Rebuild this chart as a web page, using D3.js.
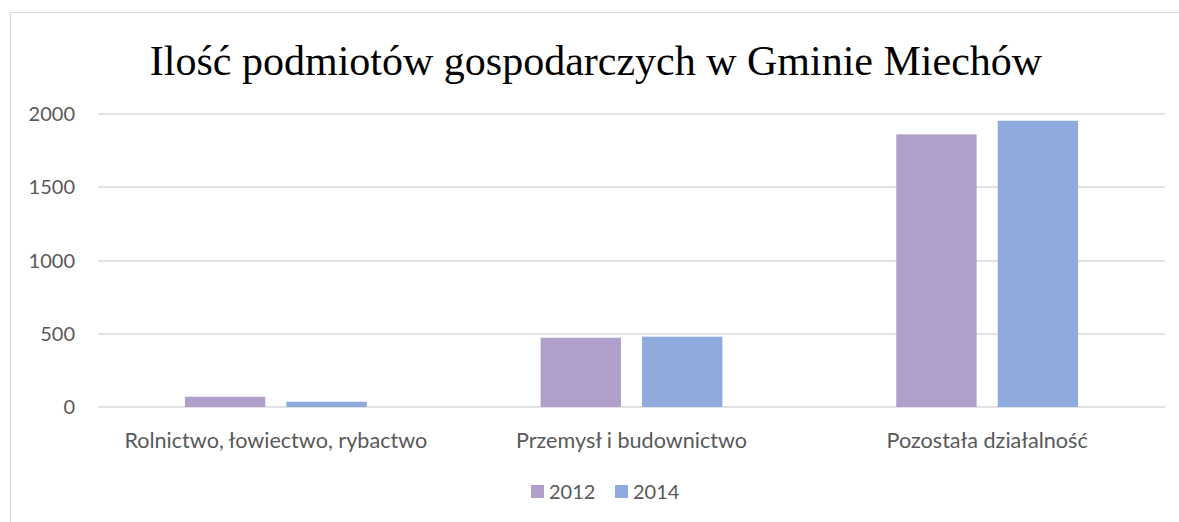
<!DOCTYPE html>
<html>
<head>
<meta charset="utf-8">
<script src="https://cdn.jsdelivr.net/npm/d3@7"></script>
<style>
  body { margin: 0; background: #fff; }
  text { font-family: Lato, "Liberation Sans", sans-serif; fill: #595959; }
</style>
</head>
<body>
<div id="chart"></div>
<script>
var categories = ["Rolnictwo, łowiectwo, rybactwo", "Przemysł i budownictwo", "Pozostała działalność"]
var series = ["2012", "2014"]
var values2012 = [70, 473, 1861]
var values2014 = [36, 480, 1954]
var yTicks = [0, 500, 1000, 1500, 2000]
var colors = ["#b09fcb", "#8faadc"]
var title = "Ilość podmiotów gospodarczych w Gminie Miechów"

var width = 1179, height = 522
var plotLeft = 98, plotRight = 1165, plotTop = 114, plotBottom = 407

var svg = d3.select("#chart").append("svg").attr("width", width).attr("height", height)

// chart frame
svg.append("rect")
  .attr("x", 10.5).attr("y", 12.5)
  .attr("width", 1200).attr("height", 600)
  .attr("fill", "none").attr("stroke", "#d9d9d9")

svg.append("text")
  .attr("x", 596).attr("y", 75)
  .attr("text-anchor", "middle")
  .style("font-family", "'Liberation Serif', 'Times New Roman', serif")
  .style("font-size", "42px")
  .style("fill", "#000")
  .text(title)

var ys = d3.scaleLinear().domain([0, 2000]).range([plotBottom, plotTop])
var x0 = d3.scaleBand().domain(categories).range([plotLeft, plotRight])
var x1 = d3.scaleBand().domain(series).range([0, x0.bandwidth()]).paddingInner(0.208).paddingOuter(0.857)

// gridlines
svg.append("g")
  .selectAll("line")
  .data(yTicks)
  .enter()
  .append("line")
  .attr("x1", plotLeft).attr("x2", plotRight)
  .attr("y1", d => Math.round(ys(d)))
  .attr("y2", d => Math.round(ys(d)))
  .attr("stroke", "#d9d9d9").attr("stroke-width", 1.5)

svg.append("g")
  .selectAll("text")
  .data(yTicks)
  .enter()
  .append("text")
  .attr("x", 75).attr("y", d => ys(d))
  .attr("dy", "0.36em")
  .attr("text-anchor", "end")
  .style("font-size", "20px")
  .text(d => d)

var rows = categories.map(function (c, i) {
  return { cat: c, vals: [values2012[i], values2014[i]] }
})

var groups = svg.append("g")
  .selectAll("g")
  .data(rows)
  .enter()
  .append("g")
  .attr("transform", d => "translate(" + x0(d.cat) + ",0)")

groups.selectAll("rect")
  .data(d => d.vals.map((v, j) => ({ s: series[j], v: v, j: j })))
  .enter()
  .append("rect")
  .attr("x", d => x1(d.s))
  .attr("width", x1.bandwidth())
  .attr("y", d => ys(d.v))
  .attr("height", d => ys(0) - ys(d.v))
  .attr("fill", d => colors[d.j])

svg.append("g")
  .selectAll("text")
  .data(categories)
  .enter()
  .append("text")
  .attr("x", d => x0(d) + x0.bandwidth() / 2)
  .attr("y", 448)
  .attr("text-anchor", "middle")
  .style("font-size", "21.6px")
  .text(d => d)

// legend
var legend = svg.append("g")
var lx = [531, 615]
series.forEach(function (s, i) {
  legend.append("rect")
    .attr("x", lx[i]).attr("y", 485)
    .attr("width", 13).attr("height", 13)
    .attr("fill", colors[i])
  legend.append("text")
    .attr("x", lx[i] + 18).attr("y", 499)
    .style("font-size", "20px")
    .text(s)
})
</script>
</body>
</html>
